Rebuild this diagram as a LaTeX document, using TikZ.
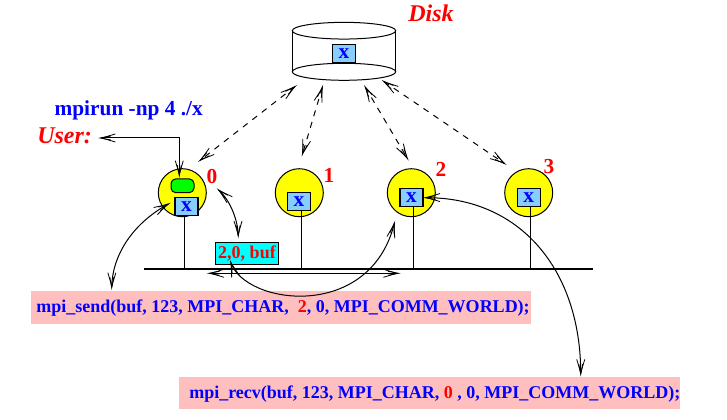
\documentclass[tikz,border=0pt]{standalone}
\usepackage{fontspec}
\setmainfont{Liberation Serif}
\usetikzlibrary{arrows.meta,shapes.geometric}
\definecolor{boxblue}{HTML}{87CEFF}
\definecolor{pinkbar}{HTML}{FFBFBF}
\definecolor{pyellow}{HTML}{FFFF00}
\definecolor{pgreen}{HTML}{00FF00}
\definecolor{pcyan}{HTML}{00FFFF}
\definecolor{pblue}{HTML}{0000FF}
\definecolor{pred}{HTML}{FF0000}
\def\px{0.75pt}
\tikzset{
  x=0.75pt,y=-0.75pt,
  tipx/.tip={Straight Barb[length=10pt,width=6pt,line width=0.6pt,sep=-8pt] Straight Barb[length=8pt,width=3pt,line width=0.6pt]},
  conn/.style={draw=black,line width=0.75pt,{tipx}-{tipx}},
  dashconn/.style={conn,dash pattern=on 4.5pt off 4.5pt},
  proc/.style={circle,draw=black,line width=0.75pt,fill=pyellow,minimum size=48*\px,inner sep=0pt},
  filebox/.style={rectangle,draw=black,line width=0.8pt,fill=boxblue,minimum width=23*\px,minimum height=18.5*\px,inner sep=0pt,text=pblue,font=\bfseries\fontsize{16}{16}\selectfont},
  rank/.style={text=pred,font=\bfseries\fontsize{16}{16}\selectfont,inner sep=0pt},
  stem/.style={draw=black,line width=0.75pt},
  call/.style={text=pblue,font=\bfseries\fontsize{13.5}{14}\selectfont,inner sep=0pt,anchor=west},
  bar/.style={rectangle,fill=pinkbar,inner sep=0pt,anchor=north west},
  title/.style={text=pred,font=\bfseries\itshape\fontsize{18}{18}\selectfont,inner sep=0pt},
}
\begin{document}
\begin{tikzpicture}
\useasboundingbox[fill=white] (0,0) rectangle (727,420);
% disk
\draw[line width=0.75pt] (292.3,30.7) -- (292.3,71.8);
\draw[line width=0.75pt] (395.7,30.7) -- (395.7,71.8);
\node[draw=black,line width=0.75pt,ellipse,minimum width=103.4*\px,minimum height=16.7*\px,inner sep=0pt] (disktop) at (344,30.7) {};
\node[filebox] (diskx) at (344,53.5) {x};
\node[draw=black,line width=0.75pt,ellipse,minimum width=103.4*\px,minimum height=17*\px,inner sep=0pt] (diskbot) at (344,71.8) {};
\node[title,anchor=west] (disklabel) at (408,13.5) {Disk};
% pink bars
\node[bar,minimum width=500*\px,minimum height=33*\px] (sendbar) at (31,291) {};
\node[bar,minimum width=501*\px,minimum height=32*\px] (recvbar) at (179,377) {};
\node[call] (sendtext) at (36,308.5) {mpi\_send(buf, 123, MPI\_CHAR, \ {\color{pred}2}, 0, MPI\_COMM\_WORLD);};
\node[call] (recvtext) at (189,394.5) {mpi\_recv(buf, 123, MPI\_CHAR, {\color{pred}0} , 0, MPI\_COMM\_WORLD);};
% processes
\node[proc] (p0) at (182.3,192.7) {};
\node[proc] (p1) at (299.3,192.7) {};
\node[proc] (p2) at (411.3,192.7) {};
\node[proc] (p3) at (528.7,192.7) {};
\node[draw=black,line width=0.75pt,fill=pgreen,rounded corners=3.5pt,minimum width=23*\px,minimum height=13.7*\px,inner sep=0pt] (prog) at (182.5,185.8) {};
\node[filebox] (x0) at (186.5,206.6) {x};
\node[filebox] (x1) at (299,201.5) {x};
\node[filebox] (x2) at (411.5,197.3) {x};
\node[filebox] (x3) at (528.8,197.5) {x};
\node[rank] (r0) at (212,177) {0};
\node[rank] (r1) at (329,175) {1};
\node[rank] (r2) at (441,169) {2};
\node[rank] (r3) at (549,167) {3};
% bus
\coordinate (busL) at (144,269);
\coordinate (busR) at (593,269);
\draw[line width=2.1pt] (busL) -- (busR);
\draw[stem] (184.3,216) -- (184.3,269);
\draw[stem] (301.3,210.7) -- (301.3,269);
\draw[stem] (413.5,206.7) -- (413.5,269);
\draw[stem] (530.3,206.7) -- (530.3,269);
% message
\node[rectangle,draw=black,line width=0.75pt,fill=pcyan,minimum width=63.4*\px,minimum height=22*\px,inner sep=0pt,text=pred,font=\bfseries\fontsize{13.5}{14}\selectfont] (msg) at (247,253.3) {2,0, buf};
% labels
\node[text=pblue,font=\bfseries\fontsize{16}{16}\selectfont,inner sep=0pt] (mpirun) at (128.7,110) {mpirun -np 4 ./x};
\node[title,anchor=west] (user) at (37,135.5) {User:};
% connector ends
\coordinate (userEnd) at (98,138);
\coordinate (userCorner) at (179.3,138);
\coordinate (progTop) at (179.3,178);
\coordinate (d0a) at (297,85);   \coordinate (d0b) at (198,162);
\coordinate (d1a) at (323,85);   \coordinate (d1b) at (301.7,156.7);
\coordinate (d2a) at (364,85);   \coordinate (d2b) at (408.7,160.7);
\coordinate (d3a) at (381.7,80); \coordinate (d3b) at (506.7,165);
\coordinate (s0) at (170.7,202.7);  \coordinate (s1) at (111.7,290);
\coordinate (b0) at (216.7,188.3);  \coordinate (b1) at (238.3,238.3);
\coordinate (m0) at (230,260);      \coordinate (m1) at (395,220.7);
\coordinate (w0) at (206.7,273.3);  \coordinate (w1) at (400.7,273.3);
\coordinate (q0) at (422.7,197.7);  \coordinate (q1) at (580.7,376.7);
% connectors
\draw[conn] (userEnd) -- (userCorner) -- (progTop);
\draw[dashconn] (d0a) -- (d0b);
\draw[dashconn] (d1a) -- (d1b);
\draw[dashconn] (d2a) -- (d2b);
\draw[dashconn] (d3a) -- (d3b);
\draw[conn] (s0) .. controls (130,225) and (112,258) .. (s1);
\draw[conn] (b0) .. controls (230,200) and (238,220) .. (b1);
\draw[conn] (m0) .. controls (245,305) and (370,322) .. (m1);
\draw[conn] (w0) -- (w1);
\draw[conn] (q0) .. controls (520,197) and (581,270) .. (q1);
\end{tikzpicture}
\end{document}
